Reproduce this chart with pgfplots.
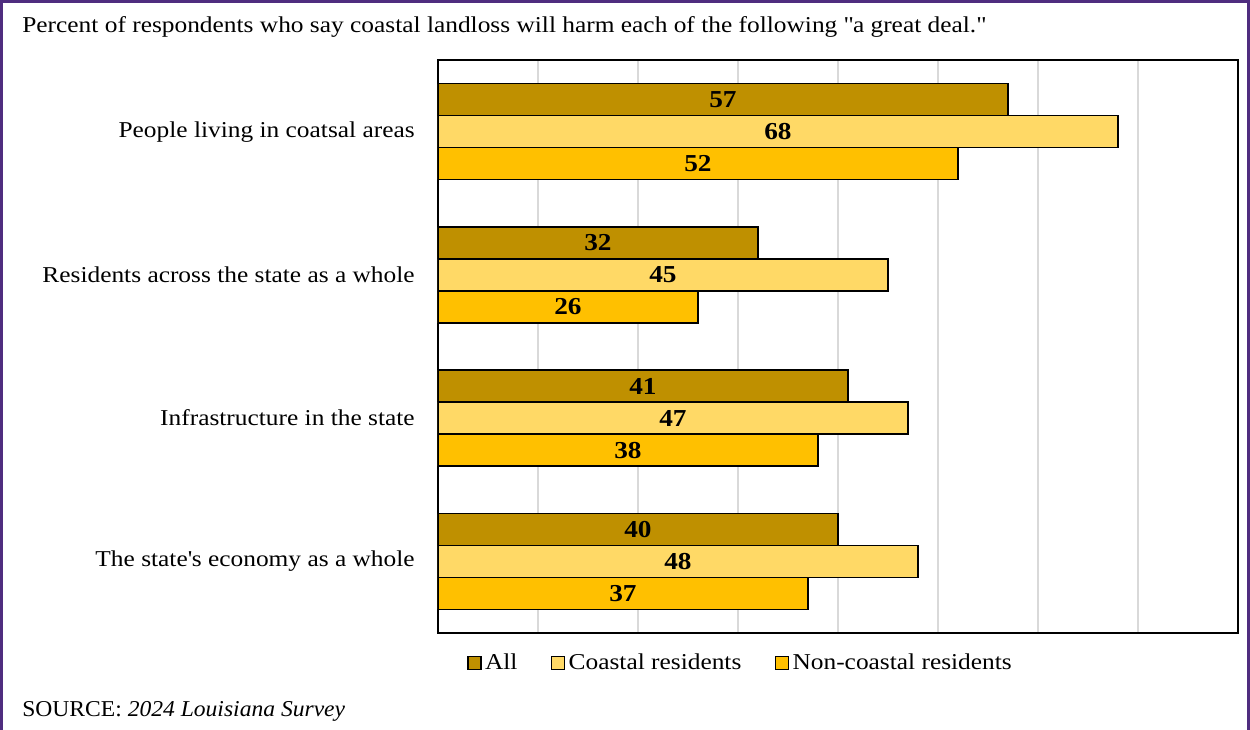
\documentclass[border=0pt]{standalone}
\usepackage{fontspec}
\setmainfont{Liberation Serif}[FakeStretch=1.12]
\newfontfamily\srcfont{Liberation Serif}[FakeStretch=1.04]
\usepackage{pgfplots}
\pgfplotsset{compat=1.18}
\usepackage{pgfplotstable}
\definecolor{cAll}{HTML}{BF9000}
\definecolor{cCoast}{HTML}{FFD966}
\definecolor{cNon}{HTML}{FFC000}
\definecolor{lsu}{HTML}{4F2D7F}
\definecolor{gridc}{HTML}{D9D9D9}

\pgfplotstableread{
y v
4 57
3 32
2 41
1 40
}\tAll
\pgfplotstableread{
y v
4 68
3 45
2 47
1 48
}\tCoast
\pgfplotstableread{
y v
4 52
3 26
2 38
1 37
}\tNon

\newcommand{\fs}{\fontsize{13.6}{16}\selectfont}

\begin{document}
\begin{tikzpicture}
\useasboundingbox (0,0) rectangle (750pt,437.4pt);
\draw[lsu, line width=1.8pt] (0.9pt,-5pt) -- (0.9pt,436.5pt) -- (749.1pt,436.5pt) -- (749.1pt,-5pt);
\node[anchor=base west, inner sep=0pt, font=\fs] at (13.2pt,417.6pt) {Percent of respondents who say coastal landloss will harm each of the following \textquotedbl a great deal.\textquotedbl};
\node[anchor=base west, inner sep=0pt, font=\fs\srcfont] at (13.2pt,7.8pt) {SOURCE: \textit{2024 Louisiana Survey}};
\begin{axis}[
  at={(262.8pt,57.6pt)}, anchor=south west,
  scale only axis, width=480pt, height=343.8pt,
  xmin=0, xmax=80, ymin=0.5, ymax=4.5,
  xbar, bar width=19.2pt,
  xtick={0,10,...,80}, xticklabels={},
  xmajorgrids, grid style={gridc, line width=1.2pt},
  ytick={1,2,3,4},
  yticklabels={The state\textquotesingle s economy as a whole, Infrastructure in the state, Residents across the state as a whole, People living in coatsal areas},
  major tick length=0pt,
  axis line style={black, line width=1.2pt},
  yticklabel style={font=\fs, inner sep=0pt, xshift=-13.8pt},
  point meta=explicit symbolic,
  nodes near coords={\pgfplotspointmeta},
  visualization depends on={rawx \as \rawx},
  every node near coord/.append style={anchor=center, xshift={-3pt*\rawx}, font=\bfseries\fontsize{14.6}{16}\selectfont, black},
  legend columns=-1,
  legend style={draw=none, fill=none, at={(0.379,-0.052)}, anchor=center, font=\fs,
    /tikz/every even column/.append style={column sep=18pt}},
  legend image code/.code={\draw[#1, line width=0.9pt] (0pt,-3.9pt) rectangle (7.8pt,3.9pt);},
]
\addplot[fill=cAll, draw=black, line width=0.9pt, bar shift=19.2pt] table[x=v, y=y, meta=v] {\tAll};
\addplot[fill=cCoast, draw=black, line width=0.9pt, bar shift=0pt] table[x=v, y=y, meta=v] {\tCoast};
\addplot[fill=cNon, draw=black, line width=0.9pt, bar shift=-19.2pt] table[x=v, y=y, meta=v] {\tNon};
\legend{All, Coastal residents, Non-coastal residents}
\end{axis}
\end{tikzpicture}
\end{document}
